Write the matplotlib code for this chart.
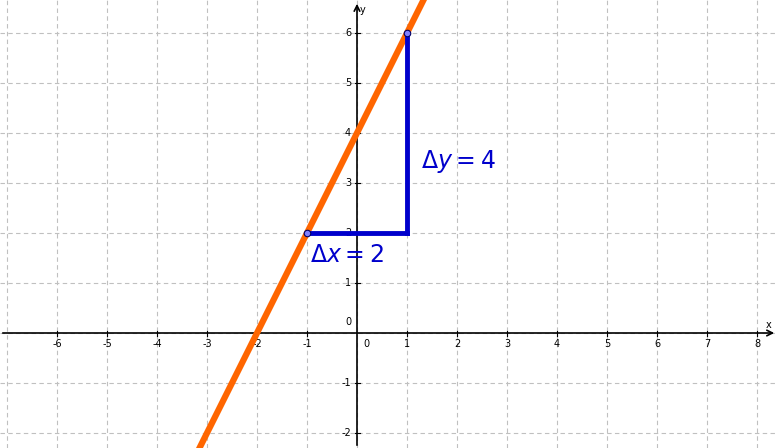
import matplotlib.pyplot as plt
import numpy as np

# line y = 2x + 4
slope = 2
intercept = 4
pts_x = [-1, 1]
pts_y = [2, 6]
x_ticks = [-6, -5, -4, -3, -2, -1, 1, 2, 3, 4, 5, 6, 7, 8]
y_ticks = [-2, -1, 1, 2, 3, 4, 5, 6]

fig = plt.figure(figsize=(7.78, 4.48), dpi=100)
ax = fig.add_axes([0, 0, 1, 1])
xmin, xmax = -7.14, 8.42
ymin, ymax = -2.3, 6.66
ax.set_xlim(xmin, xmax)
ax.set_ylim(ymin, ymax)

# dashed grid
for gx in np.arange(-7, 9):
    ax.axvline(gx, color="#c0c0c0", lw=0.8, ls=(0, (4, 3)), zorder=0)
for gy in np.arange(-2, 7):
    ax.axhline(gy, color="#c0c0c0", lw=0.8, ls=(0, (4, 3)), zorder=0)

for s in ax.spines.values():
    s.set_visible(False)
ax.set_xticks([])
ax.set_yticks([])

# axes with arrows
ax.annotate("", xy=(xmax - 0.02, 0), xytext=(xmin, 0),
            arrowprops=dict(arrowstyle="->", lw=1.2, color="black"))
ax.annotate("", xy=(0, ymax - 0.02), xytext=(0, ymin),
            arrowprops=dict(arrowstyle="->", lw=1.2, color="black"))
ax.text(xmax - 0.25, 0.1, "x", fontsize=7)
ax.text(0.05, ymax - 0.25, "y", fontsize=7)

for t in x_ticks:
    ax.plot([t, t], [-0.05, 0.05], color="black", lw=0.8)
    ax.text(t, -0.12, str(t), fontsize=7, ha="center", va="top")
for t in y_ticks:
    ax.plot([-0.05, 0.05], [t, t], color="black", lw=0.8)
    ax.text(-0.12, t, str(t), fontsize=7, ha="right", va="center")
ax.text(-0.12, 0.12, "0", fontsize=7, ha="right", va="bottom")
ax.text(0.12, -0.12, "0", fontsize=7, ha="left", va="top")

# orange line
xs = np.array([xmin, xmax])
ax.plot(xs, slope * xs + intercept, color="#ff6600", lw=4.5, zorder=3)

# rise / run
ax.plot([pts_x[0], pts_x[1]], [pts_y[0], pts_y[0]], color="#0000cc", lw=3.5, zorder=4)
ax.plot([pts_x[1], pts_x[1]], [pts_y[0], pts_y[1]], color="#0000cc", lw=3.5, zorder=4)
ax.scatter(pts_x, pts_y, s=22, facecolor="#7f7fff", edgecolor="#000066", lw=0.8, zorder=5)

ax.text(-0.95, 1.42, r"$\Delta x = 2$", color="#0000cc", fontsize=17)
ax.text(1.27, 3.3, r"$\Delta y = 4$", color="#0000cc", fontsize=17)

fig.savefig("out.png", dpi=100)
